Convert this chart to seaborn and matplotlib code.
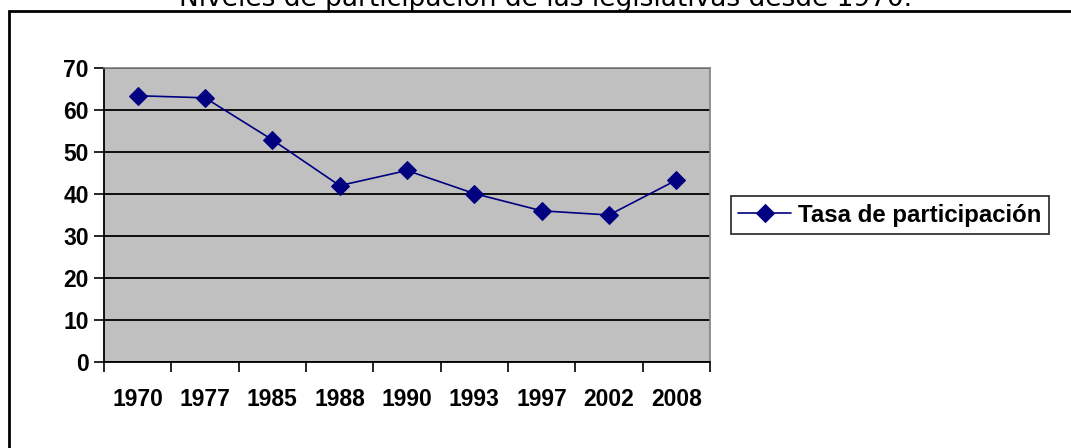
import pandas as pd
import matplotlib.pyplot as plt
import seaborn as sns
from matplotlib.patches import Rectangle

# datos
years = ['1970', '1977', '1985', '1988', '1990', '1993', '1997', '2002', '2008']
participacion = [63.4, 62.9, 52.9, 42.0, 45.6, 40.1, 36.0, 35.0, 43.3]
yticks = [0, 10, 20, 30, 40, 50, 60, 70]

df = pd.DataFrame({'year': years, 'tasa': participacion})

sns.set_style('white')
plt.rcParams['font.family'] = ['Liberation Sans', 'DejaVu Sans']
plt.rcParams['text.color'] = 'black'
plt.rcParams['xtick.color'] = 'black'
plt.rcParams['ytick.color'] = 'black'

fig = plt.figure(figsize=(10.71, 4.48), dpi=100)
ax = fig.add_axes([104/1071, 1-362/448, (710-104)/1071, (362-68)/448])

sns.lineplot(x='year', y='tasa', data=df, ax=ax, color='#000080', marker='D',
             markersize=9, markeredgecolor='#000080', linewidth=1.2,
             label='Tasa de participación', legend=False)

ax.set_facecolor('#C0C0C0')
ax.set_ylim(0, 70)
ax.set_xlim(-0.5, len(years) - 0.5)
ax.set_yticks(yticks)
ax.set_yticklabels([str(t) for t in yticks], fontsize=16.5, fontweight='bold')
ax.yaxis.grid(True, color='black', linewidth=1.3)
ax.set_axisbelow(True)

# ticks en los limites de categorias, etiquetas en el centro
ax.set_xticks([i - 0.5 for i in range(len(years) + 1)])
ax.set_xticklabels([])
ax.set_xticks(range(len(years)), minor=True)
ax.set_xticklabels(years, minor=True, fontsize=16.5, fontweight='bold')
ax.tick_params(axis='x', which='major', length=7, width=1.2, direction='out', bottom=True)
ax.tick_params(axis='x', which='minor', length=0, pad=19)
ax.tick_params(axis='y', length=7, width=1.2, direction='out', left=True, pad=4)
ax.set_xlabel('')
ax.set_ylabel('')

for s in ['top', 'right']:
    ax.spines[s].set_color('#808080')
    ax.spines[s].set_linewidth(1.2)
for s in ['left', 'bottom']:
    ax.spines[s].set_color('black')
    ax.spines[s].set_linewidth(1.3)

handles, labels = ax.get_legend_handles_labels()
leg = fig.legend(handles, labels, loc='center left',
                 bbox_to_anchor=(731/1071, 1-215/448),
                 prop={'size': 17.3, 'weight': 'bold'}, frameon=True, fancybox=False,
                 borderpad=0.3, handlelength=2.2, handletextpad=0.3, borderaxespad=0)
leg.get_frame().set_edgecolor('black')
leg.get_frame().set_linewidth(1.3)
for t in leg.get_texts():
    t.set_color('black')

# marco exterior del grafico
fig.patches.append(Rectangle((9/1071, -0.1), 1.2, 1 - 11/448 + 0.1, transform=fig.transFigure,
                             fill=False, edgecolor='black', linewidth=2))

fig.text(0.509, 1 - 6/448, 'Niveles de participación de las legislativas desde 1970.',
         ha='center', va='baseline', fontsize=19, family='DejaVu Sans', color='black')

plt.savefig('out.png', dpi=100)
